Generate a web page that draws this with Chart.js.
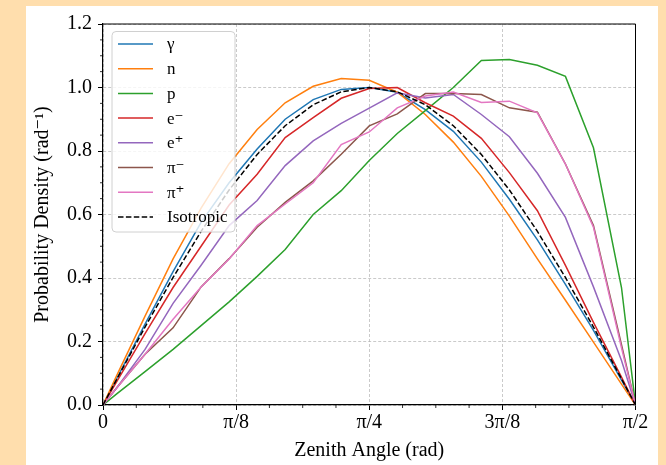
<!DOCTYPE html>
<html><head><meta charset="utf-8">
<script src="https://cdn.jsdelivr.net/npm/chart.js@4.4.1/dist/chart.umd.min.js"></script>
<style>
html,body{margin:0;padding:0;background:#FFDEAD;width:666px;height:465px;overflow:hidden}
#panel{position:absolute;left:26px;top:6px;width:632px;height:459px;background:#fff}
canvas{display:block}
</style></head><body>
<div id="panel"><canvas id="c" width="632" height="459"></canvas></div>
<script>
// Zenith angle sample points (rad): bin centres plus the two end points
const THETA = [0, 0.04134, 0.12401, 0.20668, 0.28936, 0.37203, 0.45470, 0.53738, 0.62005, 0.70272, 0.78540,
  0.86807, 0.95075, 1.03342, 1.11609, 1.19877, 1.28144, 1.36411, 1.44679, 1.52946, 1.5708];

const GAMMA = [0, 0.085, 0.255, 0.42, 0.575, 0.70, 0.806, 0.90, 0.962, 0.994, 1.0, 0.985, 0.93, 0.862, 0.765, 0.648, 0.52, 0.38, 0.235, 0.078, 0];
const NEUTRON = [0, 0.095, 0.28, 0.46, 0.62, 0.76, 0.868, 0.952, 1.004, 1.028, 1.023, 0.985, 0.915, 0.828, 0.72, 0.595, 0.46, 0.33, 0.198, 0.066, 0];
const PROTON = [0, 0.036, 0.105, 0.175, 0.25, 0.325, 0.405, 0.49, 0.60, 0.675, 0.77, 0.855, 0.927, 1.0, 1.085, 1.088, 1.07, 1.035, 0.81, 0.37, 0];
const EMINUS = [0, 0.075, 0.225, 0.37, 0.50, 0.63, 0.727, 0.842, 0.905, 0.966, 0.997, 1.0, 0.952, 0.91, 0.84, 0.732, 0.612, 0.44, 0.26, 0.088, 0];
const EPLUS = [0, 0.055, 0.175, 0.32, 0.44, 0.565, 0.644, 0.754, 0.832, 0.887, 0.935, 0.983, 0.967, 0.978, 0.915, 0.845, 0.73, 0.591, 0.372, 0.14, 0];
const PIMINUS = [0, 0.055, 0.16, 0.243, 0.372, 0.461, 0.56, 0.638, 0.706, 0.79, 0.879, 0.917, 0.981, 0.981, 0.978, 0.936, 0.922, 0.759, 0.565, 0.19, 0];
const PIPLUS = [0, 0.055, 0.16, 0.27, 0.372, 0.46, 0.565, 0.633, 0.70, 0.82, 0.86, 0.936, 0.973, 0.986, 0.953, 0.957, 0.92, 0.759, 0.56, 0.18, 0];
const ISOTROPIC = [0, 0.0826, 0.2455, 0.4017, 0.5469, 0.6773, 0.7891, 0.8795, 0.9458, 0.9864, 1.0, 0.9864, 0.9458, 0.8795, 0.7891, 0.6773, 0.5469, 0.4017, 0.2455, 0.0826, 0];

const SERIES_NAMES = ['γ', 'n', 'p', 'e⁻', 'e⁺', 'π⁻', 'π⁺', 'Isotropic'];
const SERIES_VALUES = [GAMMA, NEUTRON, PROTON, EMINUS, EPLUS, PIMINUS, PIPLUS, ISOTROPIC];
const SERIES_COLORS = ['#1f77b4', '#ff7f0e', '#2ca02c', '#d62728', '#9467bd', '#8c564b', '#e377c2', '#000000'];

const X_TICK_VALUES = [0, Math.PI / 8, Math.PI / 4, 3 * Math.PI / 8, Math.PI / 2];
const X_TICK_LABELS = ['0', 'π/8', 'π/4', '3π/8', 'π/2'];

const SERIF = "'Liberation Serif', 'DejaVu Serif', serif";

const datasets = SERIES_VALUES.map((vals, i) => ({
  label: SERIES_NAMES[i],
  data: vals.map((v, k) => ({x: THETA[k], y: v})),
  borderColor: SERIES_COLORS[i],
  backgroundColor: SERIES_COLORS[i],
  borderWidth: 1.5,
  borderDash: SERIES_NAMES[i] === 'Isotropic' ? [5.5, 2.4] : [],
  pointRadius: 0,
  tension: 0,
  fill: false,
  order: SERIES_VALUES.length - i
}));

const extras = {
  id: 'extras',
  afterDraw(chart) {
    const {ctx, chartArea: a, scales: {x, y}} = chart;
    ctx.save();
    // top & right spines
    ctx.strokeStyle = '#000';
    ctx.lineWidth = 1;
    ctx.beginPath();
    ctx.moveTo(a.left, a.top); ctx.lineTo(a.right, a.top); ctx.lineTo(a.right, a.bottom);
    ctx.stroke();
    // minor ticks
    ctx.lineWidth = 0.8;
    ctx.beginPath();
    for (let i = 1; i < 24; i++) {
      if (i % 4 === 0) continue;
      const py = y.getPixelForValue(i * 0.05);
      ctx.moveTo(a.left, py); ctx.lineTo(a.left - 3, py);
    }
    for (let i = 1; i < 16; i++) {
      if (i % 4 === 0) continue;
      const px = x.getPixelForValue(i * Math.PI / 32);
      ctx.moveTo(px, a.bottom); ctx.lineTo(px, a.bottom + 3);
    }
    ctx.stroke();
    // legend
    const L = 86, T = 25.5, W = 123, H = 200.5, r = 4;
    ctx.beginPath();
    ctx.moveTo(L + r, T);
    ctx.arcTo(L + W, T, L + W, T + H, r);
    ctx.arcTo(L + W, T + H, L, T + H, r);
    ctx.arcTo(L, T + H, L, T, r);
    ctx.arcTo(L, T, L + W, T, r);
    ctx.closePath();
    ctx.fillStyle = 'rgba(255,255,255,0.8)';
    ctx.fill();
    ctx.strokeStyle = '#d0d0d0';
    ctx.lineWidth = 1;
    ctx.stroke();
    ctx.font = '17px ' + SERIF;
    ctx.textBaseline = 'middle';
    ctx.textAlign = 'left';
    chart.data.datasets.forEach((ds, i) => {
      const ry = 38 + i * 24.7;
      ctx.beginPath();
      ctx.strokeStyle = ds.borderColor;
      ctx.lineWidth = 1.5;
      ctx.setLineDash(ds.borderDash || []);
      ctx.moveTo(92, ry); ctx.lineTo(127, ry);
      ctx.stroke();
      ctx.setLineDash([]);
      ctx.fillStyle = '#000';
      ctx.fillText(ds.label, 141, ry + 1);
    });
    ctx.restore();
  }
};

new Chart(document.getElementById('c'), {
  type: 'line',
  data: {datasets},
  options: {
    responsive: false,
    animation: false,
    layout: {padding: {left: 0, top: 16.5, right: 22.5, bottom: 0}},
    plugins: {legend: {display: false}, tooltip: {enabled: false}},
    scales: {
      x: {
        type: 'linear',
        min: 0, max: Math.PI / 2,
        afterBuildTicks: s => { s.ticks = X_TICK_VALUES.map(v => ({value: v})); },
        afterFit: s => { s.height = 60; },
        ticks: {
          callback: (v, idx) => X_TICK_LABELS[idx],
          autoSkip: false, maxRotation: 0, padding: 1,
          color: '#000', font: {family: SERIF, size: 20}
        },
        grid: {color: 'rgba(176,176,176,0.85)', lineWidth: 0.8, tickLength: 5, tickColor: '#000', tickWidth: 1, tickBorderDash: []},
        border: {display: true, color: '#000', width: 1.2, dash: [3, 2]},
        title: {display: true, text: 'Zenith Angle (rad)', color: '#000', font: {family: SERIF, size: 20}, padding: {top: 0, bottom: 2}}
      },
      y: {
        min: 0, max: 1.2,
        afterFit: s => { s.width = 77; },
        ticks: {
          stepSize: 0.2,
          callback: v => v.toFixed(1),
          padding: 6,
          color: '#000', font: {family: SERIF, size: 20}
        },
        grid: {color: 'rgba(176,176,176,0.85)', lineWidth: 0.8, tickLength: 5, tickColor: '#000', tickWidth: 1, tickBorderDash: []},
        border: {display: true, color: '#000', width: 1.2, dash: [3, 2]},
        title: {display: true, text: 'Probability Density (rad⁻¹)', color: '#000', font: {family: SERIF, size: 20}, padding: {top: 5, bottom: 0}}
      }
    }
  },
  plugins: [extras]
});
</script></body></html>
